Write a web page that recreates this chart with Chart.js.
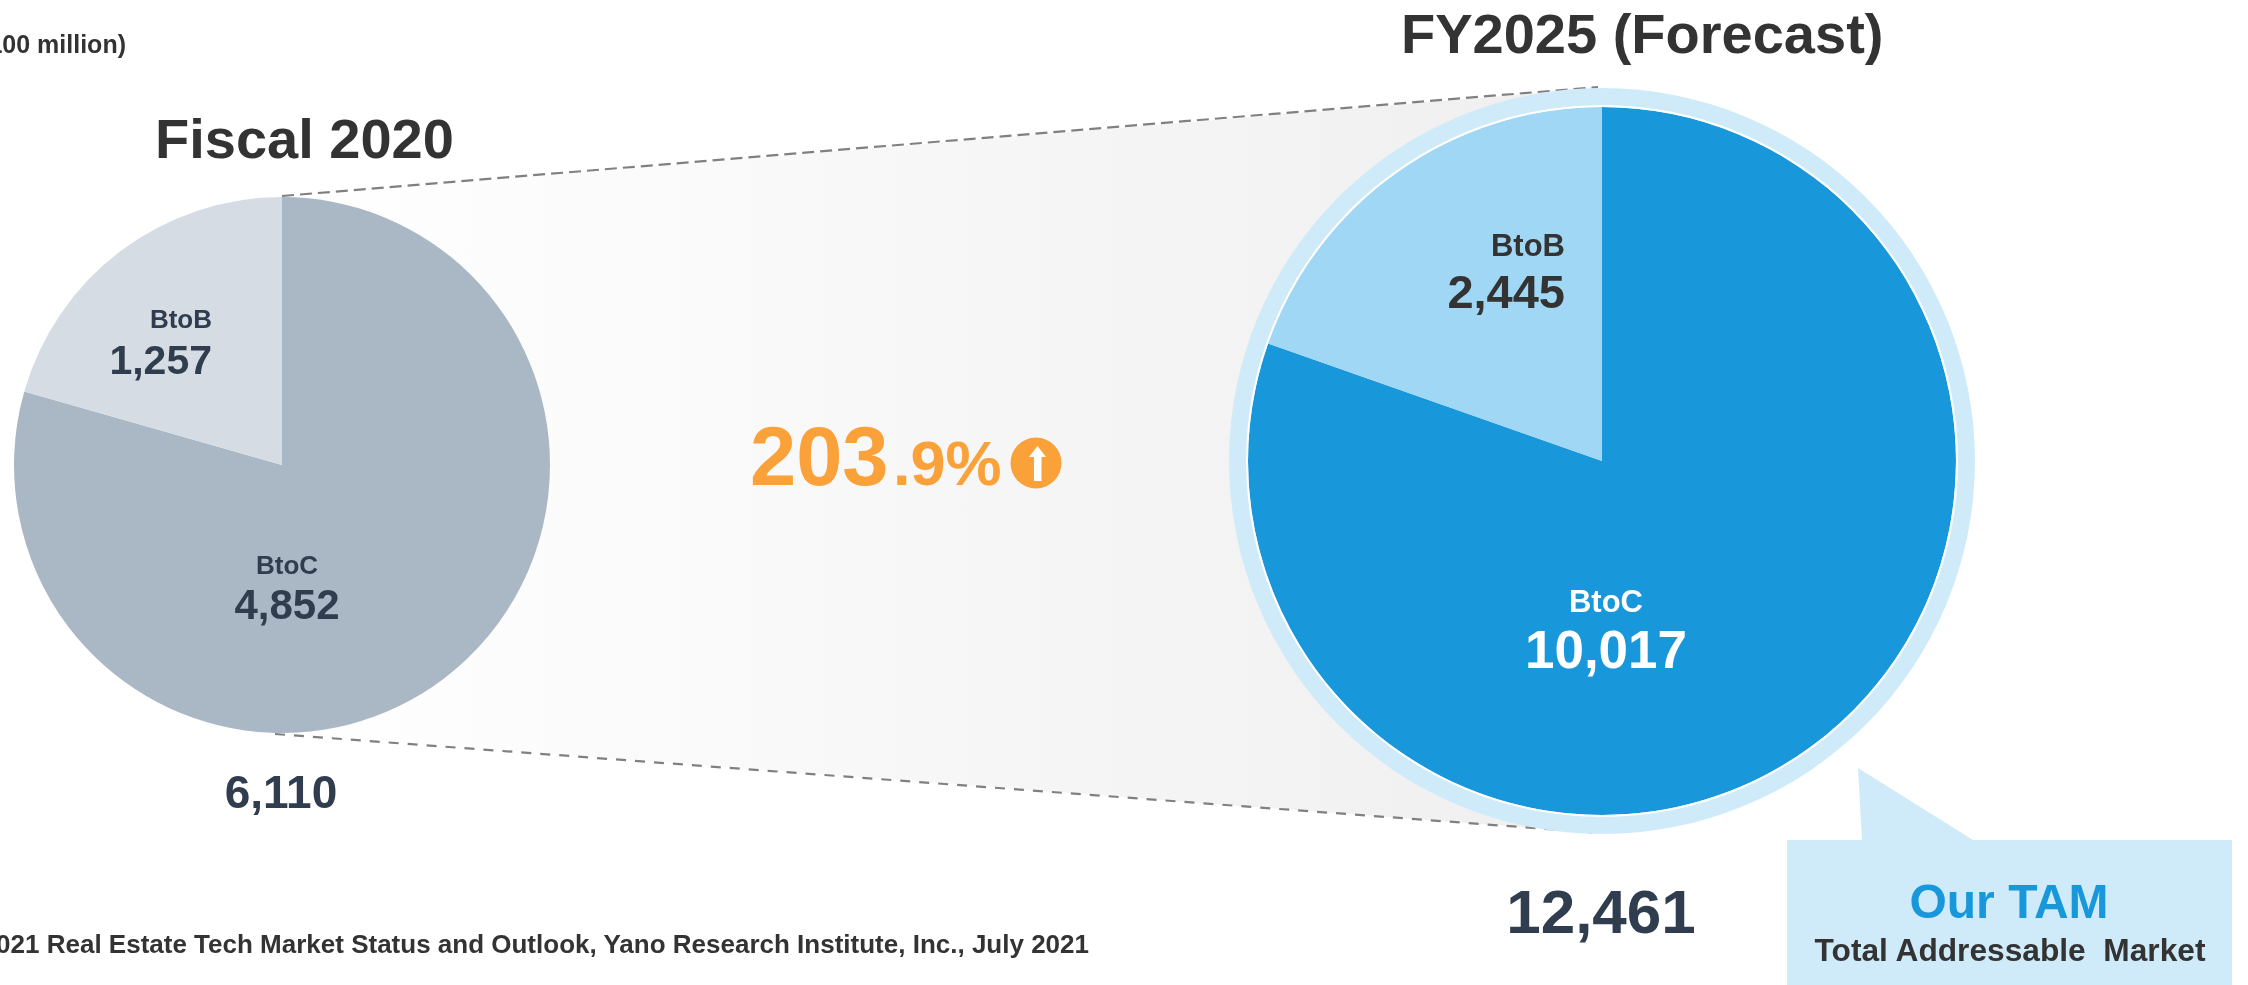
<!DOCTYPE html>
<html>
<head>
<meta charset="utf-8">
<title>Real Estate Tech Market</title>
<script src="https://cdn.jsdelivr.net/npm/chart.js@4/dist/chart.umd.min.js"></script>
<style>
html,body{margin:0;padding:0;background:#fff;overflow:hidden;}
#stage{position:relative;width:2248px;height:985px;overflow:hidden;}
#stage svg,#stage canvas{position:absolute;}
#stage svg{left:0;top:0;}
#chart-2020{left:14px;top:197px;}
#chart-2025{left:1229px;top:88px;}
text{font-family:"Liberation Sans",Arial,sans-serif;font-weight:bold;white-space:pre;}
</style>
</head>
<body>
<div id="stage">
  <svg width="2248" height="985" id="back">
    <defs>
      <linearGradient id="fade" gradientUnits="userSpaceOnUse" x1="282" y1="0" x2="1500" y2="0">
        <stop offset="0" stop-color="#ffffff"/>
        <stop offset="1" stop-color="#f0f0f0"/>
      </linearGradient>
    </defs>
    <polygon points="282,197 1600,88 1600,833 275,733" fill="url(#fade)"/>
    <line x1="282" y1="196" x2="1598" y2="87" stroke="#808080" stroke-width="2.2" stroke-dasharray="12 6"/>
    <line x1="275" y1="734" x2="1601" y2="833" stroke="#808080" stroke-width="2.2" stroke-dasharray="10 9"/>
  </svg>
  <canvas id="chart-2020" width="536" height="536"></canvas>
  <canvas id="chart-2025" width="746" height="746"></canvas>
  <svg width="2248" height="985" id="front"></svg>
</div>
<script>
const segments=['BtoC','BtoB'];
const values2020=[4852,1257];
const values2025=[10017,2445];
const total2020=6110;
const total2025=12461;
const growthWhole='203';
const growthRest='.9%';
const unitText='(100 million)';
const sourceText='Source: 2021 Real Estate Tech Market Status and Outlook, Yano Research Institute, Inc., July 2021';

const fmt=n=>n.toLocaleString('en-US');
const base={
  responsive:false,animation:false,cutout:0,
  layout:{padding:0},
  events:[],
  plugins:{legend:{display:false},tooltip:{enabled:false}}
};

new Chart(document.getElementById('chart-2020'),{
  type:'pie',
  data:{labels:segments,datasets:[
    {data:values2020,backgroundColor:['#aab8c5','#d5dce3'],borderWidth:0}
  ]},
  options:base
});

// 2025 pie sits inside a pale ring, with a thin white gap between them
new Chart(document.getElementById('chart-2025'),{
  type:'pie',
  data:{labels:segments,datasets:[
    {data:[total2025],backgroundColor:['#cfebf9'],borderWidth:0,weight:17},
    {data:[total2025],backgroundColor:['#ffffff'],borderWidth:0,weight:2},
    {data:values2025,backgroundColor:['#1897da','#9fd7f5'],borderWidth:0,weight:354}
  ]},
  options:base
});

const NS='http://www.w3.org/2000/svg';
const front=document.getElementById('front');
function add(tag,attrs,txt){
  const el=document.createElementNS(NS,tag);
  Object.keys(attrs).forEach(k=>el.setAttribute(k,attrs[k]));
  if(txt!==undefined) el.textContent=txt;
  front.appendChild(el);
  return el;
}
function label(txt,x,y,size,fill,anchor,weight){
  return add('text',{x,y,'font-size':size,fill,'text-anchor':anchor||'middle','font-weight':weight||'bold'},txt);
}

const dark='#333333', slate='#2f3d4e', orange='#fba13a', blue='#1897da';

label(unitText,126,53,25,dark,'end');
label('Fiscal 2020',155,158,56,dark,'start');
label('FY2025 (Forecast)',1401,53,56,dark,'start');

label(segments[1],212,328,26,slate,'end');
label(fmt(values2020[1]),212,374,41,slate,'end');
label(segments[0],287,574,26,slate);
label(fmt(values2020[0]),287,619,42,slate);
label(fmt(total2020),281,808,46,slate);

label(segments[1],1565,256,31,dark,'end');
label(fmt(values2025[1]),1565,308,47,dark,'end');
label(segments[0],1606,612,31,'#ffffff');
label(fmt(values2025[0]),1606,668,53,'#ffffff');
label(fmt(total2025),1601,933,62,slate);

// growth figure and arrow badge
label(growthWhole,750,485,83,orange,'start');
label(growthRest,893,485,63,orange,'start');
add('circle',{cx:1036,cy:463,r:25.5,fill:orange});
add('polygon',{points:'1037.5,446 1046,457 1041.5,457 1041.5,481 1034,481 1034,457 1029,457',fill:'#ffffff'});

// callout box
add('polygon',{points:'1787,840 1862,840 1858,768 1973,840 2232,840 2232,985 1787,985',fill:'#cfebf9'});
label('Our TAM',2009,918,48,blue);
label('Total Addressable  Market',2010,961,31.7,dark);

label(sourceText,1089,953,26,dark,'end','normal');
</script>
</body>
</html>
